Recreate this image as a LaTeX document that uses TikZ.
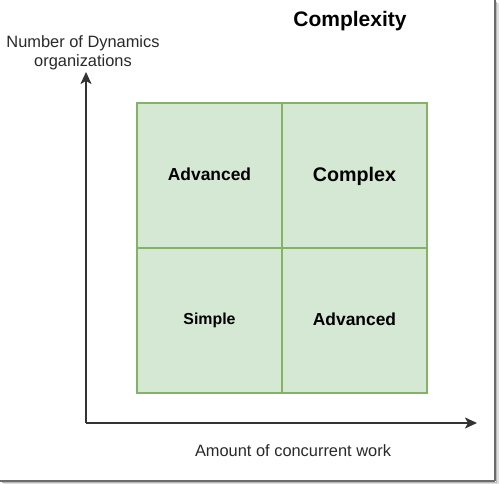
\documentclass[tikz,border=0pt]{standalone}
\usepackage{fontspec}
\setmainfont{Liberation Sans}
\usepackage{xcolor}
\usetikzlibrary{arrows.meta, positioning}
\definecolor{CellFill}{HTML}{D5E8D4}
\definecolor{CellLine}{HTML}{82B366}
\definecolor{AxisGray}{HTML}{333333}
\tikzset{
  >=Stealth,
  % Quadranti
  cell/.style={draw=CellLine,fill=CellFill,line width=1.5,minimum size=145,inner sep=0,outer sep=0,
    text depth=3pt,font=\bfseries\fontsize{17.4}{20}\selectfont},
  cell big/.style={cell,font=\bfseries\fontsize{19.7}{22}\selectfont},
  cell small/.style={cell,font=\bfseries\fontsize{15.9}{18}\selectfont},
  % Assi
  axis/.style={line width=2,AxisGray,-{Stealth[length=12,width=11,inset=3]}},
  axis label/.style={font=\fontsize{16.4}{19}\selectfont,text=AxisGray!80!black,align=center},
  % Cornice
  frame/.style={line width=1.6}
}

\begin{document}
\begin{tikzpicture}[x=1pt,y=-1pt]
  \useasboundingbox (0,0) rectangle (499,484);
  \fill[white] (0,0) rectangle (499,484);
  % cornice con ombra
  \draw[frame,gray!85!black] (495,0) -- (495,481);
  \draw[frame,gray!55] (496.6,2) -- (496.6,482.6);
  \draw[frame,gray!25] (498.2,3) -- (498.2,484);
  \draw[frame,gray!85!black] (0,481) -- (495,481);
  \draw[frame,gray!55] (2,482.6) -- (496.6,482.6);
  \draw[frame,gray!25] (3,484) -- (498.2,484);
  % titolo
  \node[font=\bfseries\fontsize{21}{24}\selectfont] (title) at (350,21.5) {Complexity};
  % quadranti
  \node[cell] (advTop) at (209.5,175.5) {Advanced};
  \node[cell big, right=0pt of advTop] (complex) {Complex};
  \node[cell small, below=0pt of advTop] (simple) {Simple};
  \node[cell, below=0pt of complex] (advBottom) {Advanced};
  % assi
  \coordinate (origin) at (86,423);
  \coordinate (ytip) at (86,72);
  \coordinate (xtip) at (477,423);
  \draw[axis] (origin) -- (ytip);
  \draw[axis] (origin) -- (xtip);
  \node[axis label] (ylabel) at (83,53) {Number of Dynamics\\organizations};
  \node[axis label] (xlabel) at (293,451) {Amount of concurrent work};
\end{tikzpicture}
\end{document}
